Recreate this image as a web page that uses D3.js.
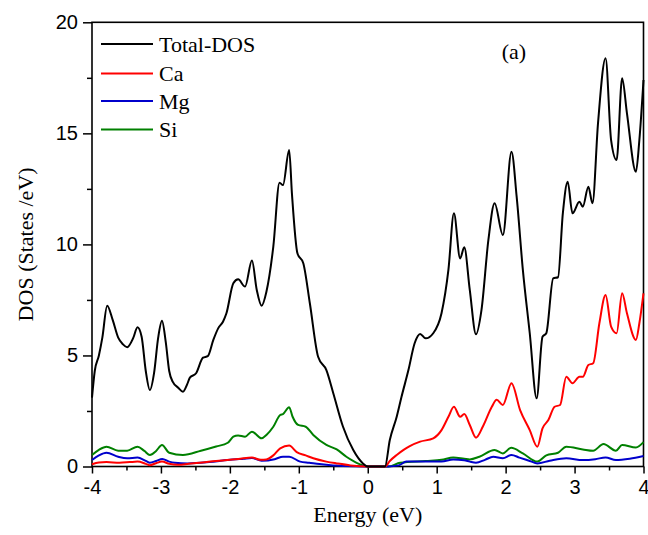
<html>
<head>
<meta charset="utf-8">
<script src="https://d3js.org/d3.v7.min.js"></script>
<style>
  body { margin: 0; background: #fff; }
  .tick text { font-family: "Liberation Sans", Arial, sans-serif; font-size: 20px; }
  .lbl { font-family: "Liberation Serif", "Times New Roman", serif; font-size: 22px; }
</style>
</head>
<body>
<svg id="chart"></svg>
<script>
// Total DOS
const totalE = [-4.00,-3.96,-3.90,-3.85,-3.78,-3.70,-3.62,-3.55,-3.49,-3.40,
  -3.34,-3.28,-3.22,-3.16,-3.10,-3.04,-2.985,-2.93,-2.88,-2.83,
  -2.75,-2.68,-2.62,-2.58,-2.49,-2.39,-2.32,-2.24,-2.17,-2.10,
  -2.05,-1.95,-1.88,-1.78,-1.68,-1.61,-1.54,-1.47,-1.37,-1.28,
  -1.23,-1.14,-1.10,-1.02,-0.935,-0.84,-0.72,-0.60,-0.50,-0.36,
  -0.21,-0.07,0,0.25,0.32,0.42,0.49,0.59,0.68,0.76,
  0.84,0.95,1.07,1.17,1.25,1.34,1.40,1.48,1.57,1.65,
  1.75,1.84,1.96,2.085,2.16,2.25,2.35,2.45,2.535,2.59,
  2.69,2.76,2.83,2.90,2.97,3.07,3.12,3.20,3.26,3.34,
  3.45,3.53,3.61,3.69,3.76,3.89,3.94,4.00];
const totalDOS = [3.1,4.3,5.0,5.8,7.24,6.6,5.8,5.5,5.37,5.8,
  6.27,5.84,4.3,3.44,4.2,5.8,6.56,5.6,4.3,3.82,
  3.55,3.37,3.7,4.0,4.2,4.9,4.97,5.7,6.22,6.52,
  6.9,8.25,8.43,8.1,9.27,7.95,7.24,7.87,9.9,12.78,
  12.67,14.25,12.3,9.6,9.15,7.35,4.94,4.34,3.3,1.8,
  0.74,0.14,0,0,1.19,2.24,3.14,4.34,5.55,5.97,
  5.77,6.0,6.9,8.85,11.4,9.37,9.87,7.95,5.95,7.05,
  10.2,11.85,10.42,14.17,12.15,8.85,6.0,3.07,5.84,6.0,
  8.47,8.52,11.4,12.82,11.4,11.92,11.7,12.6,11.85,15.45,
  18.38,14.7,13.8,17.48,15.9,13.27,14.7,17.4];

// Ca
const caE = [-4,-3.9,-3.79,-3.6,-3.45,-3.34,-3.22,-3.16,-3.07,-2.985,
  -2.88,-2.75,-2.6,-2.4,-2.2,-2.0,-1.85,-1.68,-1.55,-1.47,
  -1.37,-1.27,-1.14,-1.03,-0.9,-0.79,-0.6,-0.45,-0.25,0,
  0.25,0.32,0.42,0.52,0.61,0.76,0.95,1.07,1.17,1.25,
  1.34,1.4,1.48,1.57,1.67,1.8,1.87,1.96,2.085,2.21,
  2.35,2.46,2.535,2.62,2.71,2.79,2.88,2.97,3.07,3.12,
  3.2,3.27,3.36,3.45,3.53,3.61,3.69,3.76,3.89,3.94,4.0];
const caDOS = [0.1,0.18,0.2,0.17,0.2,0.22,0.12,0.06,0.15,0.22,
  0.12,0.08,0.12,0.18,0.25,0.3,0.35,0.4,0.3,0.32,
  0.5,0.82,0.94,0.65,0.5,0.37,0.22,0.14,0.05,0,
  0,0.25,0.52,0.75,0.92,1.12,1.27,1.64,2.24,2.69,
  2.24,2.36,1.87,1.3,1.8,2.69,3.0,2.77,3.75,2.54,
  1.64,0.89,1.72,2.09,2.69,2.77,4.04,3.75,4.04,4.04,
  4.57,4.65,6.45,7.72,6.3,6.0,7.8,6.9,5.7,6.45,7.8];

// Mg
const mgE = [-4,-3.9,-3.79,-3.62,-3.49,-3.34,-3.22,-3.16,-3.07,-2.98,
  -2.88,-2.8,-2.61,-2.3,-2.03,-1.8,-1.68,-1.54,-1.35,-1.23,
  -1.14,-0.98,-0.85,-0.7,-0.5,-0.36,0,0.3,0.45,0.56,
  0.84,1.07,1.24,1.4,1.48,1.57,1.7,1.82,1.96,2.085,
  2.2,2.35,2.46,2.64,2.88,3.12,3.3,3.45,3.6,3.8,4.0];
const mgDOS = [0.29,0.5,0.62,0.44,0.37,0.4,0.25,0.17,0.25,0.34,
  0.22,0.17,0.14,0.2,0.29,0.35,0.38,0.26,0.33,0.44,
  0.44,0.22,0.17,0.11,0.05,0.02,0,0,0.05,0.22,
  0.22,0.22,0.32,0.28,0.22,0.17,0.3,0.44,0.37,0.52,
  0.4,0.25,0.14,0.26,0.37,0.29,0.33,0.41,0.29,0.35,0.47];

// Si
const siE = [-4,-3.9,-3.79,-3.62,-3.49,-3.34,-3.24,-3.16,-3.07,-2.985,
  -2.88,-2.68,-2.42,-2.2,-2.03,-1.95,-1.88,-1.78,-1.68,-1.54,
  -1.47,-1.37,-1.27,-1.23,-1.14,-1.09,-1.01,-0.9,-0.79,-0.6,
  -0.45,-0.31,-0.12,0,0.3,0.47,0.84,1.07,1.24,1.4,
  1.48,1.62,1.84,1.96,2.08,2.25,2.46,2.59,2.76,2.88,
  3.12,3.27,3.42,3.6,3.69,3.89,4.0];
const siDOS = [0.52,0.75,0.89,0.71,0.71,0.89,0.7,0.52,0.7,0.97,
  0.62,0.52,0.71,0.9,1.07,1.34,1.4,1.34,1.57,1.27,
  1.42,1.79,2.32,2.36,2.67,2.24,1.87,1.79,1.42,0.97,
  0.77,0.44,0.11,0,0,0.17,0.25,0.3,0.41,0.35,
  0.32,0.44,0.74,0.59,0.84,0.59,0.22,0.5,0.62,0.89,
  0.77,0.71,1.01,0.71,0.97,0.86,1.1];

const seriesNames = ["Total-DOS", "Ca", "Mg", "Si"];
const seriesColors = ["#000000", "#ff0000", "#0000cc", "#008000"];
const xTicks = [-4, -3, -2, -1, 0, 1, 2, 3, 4];
const yTicks = [0, 5, 10, 15, 20];

const width = 648, height = 535;
const margin = {left: 92, right: 4.5, top: 22.3, bottom: 68.5};

const svg = d3.select("#chart").attr("width", width).attr("height", height);

const x = d3.scaleLinear().domain([-4, 4]).range([margin.left, width - margin.right]);
const y = d3.scaleLinear().domain([0, 20]).range([height - margin.bottom, margin.top]);

// minor ticks
const xMinor = d3.range(-3.5, 4, 1);
const yMinor = d3.range(2.5, 20, 5);

svg.append("g")
  .attr("transform", `translate(0,${y(0)})`)
  .call(d3.axisBottom(x).tickValues(xMinor).tickSize(4).tickFormat(""))
  .call(g => g.select(".domain").remove())
  .selectAll("line").attr("stroke-width", 1.5);

svg.append("g")
  .attr("transform", `translate(${x(-4)},0)`)
  .call(d3.axisLeft(y).tickValues(yMinor).tickSize(5).tickFormat(""))
  .call(g => g.select(".domain").remove())
  .selectAll("line").attr("stroke-width", 1.5);

const xAxis = svg.append("g")
  .attr("transform", `translate(0,${y(0)})`)
  .call(d3.axisBottom(x).tickValues(xTicks).tickSize(7).tickPadding(6).tickFormat(d => d < 0 ? "-" + Math.abs(d) : d));
xAxis.select(".domain").remove();
xAxis.selectAll("line").attr("stroke-width", 1.5);

const yAxis = svg.append("g")
  .attr("transform", `translate(${x(-4)},0)`)
  .call(d3.axisLeft(y).tickValues(yTicks).tickSize(9).tickPadding(5));
yAxis.select(".domain").remove();
yAxis.selectAll("line").attr("stroke-width", 1.5);

// frame
svg.append("rect")
  .attr("x", x(-4)).attr("y", y(20))
  .attr("width", x(4) - x(-4)).attr("height", y(0) - y(20))
  .attr("fill", "none").attr("stroke", "#000").attr("stroke-width", 1.6);

const line = d3.line()
  .x(d => x(d[0]))
  .y(d => y(d[1]))
  .curve(d3.curveMonotoneX);

const seriesData = [
  d3.zip(totalE, totalDOS),
  d3.zip(caE, caDOS),
  d3.zip(mgE, mgDOS),
  d3.zip(siE, siDOS)
];

// draw coloured partials under the total
[3, 2, 1, 0].forEach(i => {
  svg.append("path")
    .datum(seriesData[i])
    .attr("d", line)
    .attr("fill", "none")
    .attr("stroke", seriesColors[i])
    .attr("stroke-width", 2)
    .attr("stroke-linejoin", "round");
});

// legend
const legendY = [44, 73.5, 101, 129.5];
const legend = svg.append("g");
seriesNames.forEach((name, i) => {
  legend.append("line")
    .attr("x1", 101).attr("x2", 153)
    .attr("y1", legendY[i]).attr("y2", legendY[i])
    .attr("stroke", seriesColors[i]).attr("stroke-width", 2);
  legend.append("text")
    .attr("class", "lbl")
    .attr("x", 159).attr("y", legendY[i] + 7.5)
    .text(name);
});

svg.append("text").attr("class", "lbl")
  .attr("x", 514).attr("y", 59).attr("text-anchor", "middle")
  .text("(a)");

svg.append("text").attr("class", "lbl")
  .attr("x", (x(-4) + x(4)) / 2).attr("y", 522).attr("text-anchor", "middle")
  .text("Energy (eV)");

svg.append("text").attr("class", "lbl")
  .attr("transform", `translate(33,${(y(0) + y(20)) / 2}) rotate(-90)`)
  .attr("text-anchor", "middle")
  .text("DOS (States /eV)");
</script>
</body>
</html>
